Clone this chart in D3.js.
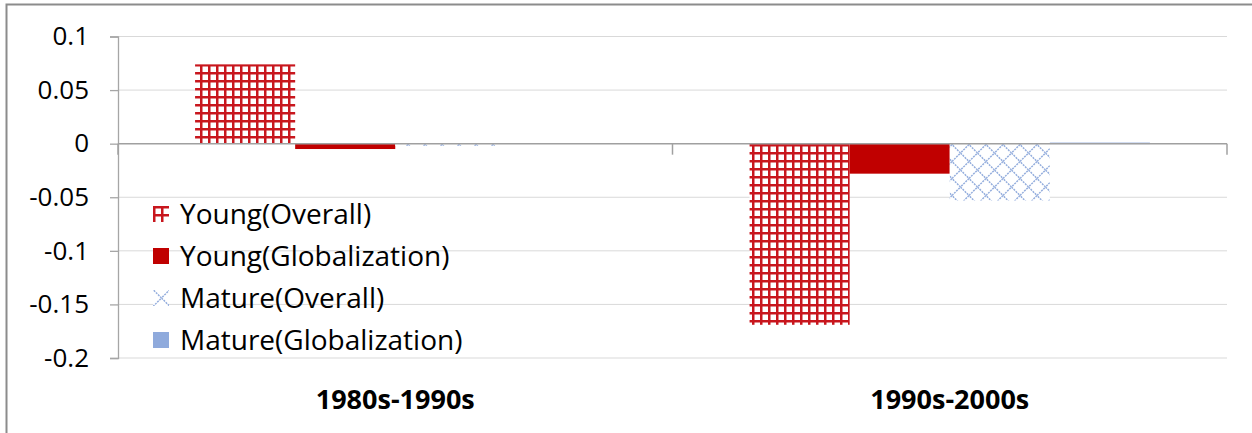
<!DOCTYPE html>
<html>
<head>
<meta charset="utf-8">
<script src="https://cdn.jsdelivr.net/npm/d3@7"></script>
<style>
  body { margin: 0; background: #fff; }
  svg { display: block; }
  text { font-family: "Open Sans", sans-serif; fill: #000; }
</style>
</head>
<body>
<div id="chart"></div>
<script>
// data
const periods = ["1980s-1990s", "1990s-2000s"];
const seriesNames = ["Young(Overall)", "Young(Globalization)", "Mature(Overall)", "Mature(Globalization)"];
const youngOverall = [0.074, -0.169];
const youngGlob = [-0.005, -0.028];
const matureOverall = [-0.002, -0.053];
const matureGlob = [0.0, 0.001];
const yTicks = [0.1, 0.05, 0, -0.05, -0.1, -0.15, -0.2];

const width = 1252, height = 433;
const plot = {left: 118, right: 1227, top: 36.5, bottom: 358};

let svg = d3.select("#chart")
    .append("svg")
    .attr("width", width)
    .attr("height", height);

// patterns
let defs = svg.append("defs");
let grid = defs.append("pattern")
    .attr("id", "grid")
    .attr("patternUnits", "userSpaceOnUse")
    .attr("width", 8).attr("height", 8);
grid.append("rect").attr("width", 8).attr("height", 8).attr("fill", "#fff");
grid.append("rect").attr("x", 0).attr("y", 0).attr("width", 2.5).attr("height", 8).attr("fill", "#c8161d");
grid.append("rect").attr("x", 0).attr("y", 0).attr("width", 8).attr("height", 2.5).attr("fill", "#c8161d");

let diamond = defs.append("pattern")
    .attr("id", "diamond")
    .attr("patternUnits", "userSpaceOnUse")
    .attr("width", 17).attr("height", 17);
diamond.append("rect").attr("width", 17).attr("height", 17).attr("fill", "#fff");
diamond.append("path")
    .attr("d", "M0,8.5 L8.5,0 L17,8.5 L8.5,17 Z")
    .attr("fill", "none")
    .attr("stroke", "#8faadc")
    .attr("stroke-width", 1.4)
    .attr("stroke-dasharray", "2,1");

const fills = ["url(#grid)", "#c00000", "url(#diamond)", "#8faadc"];

// outer frame
svg.append("path")
    .attr("d", `M6.5,${height} L6.5,4.5 L${width},4.5`)
    .attr("fill", "none")
    .attr("stroke", "#8c8c8c")
    .attr("stroke-width", 2);

let y = d3.scaleLinear()
    .domain([-0.2, 0.1])
    .range([plot.bottom, plot.top]);

let x0 = d3.scaleBand()
    .domain(periods)
    .range([plot.left, plot.right])
    .padding(0);

let x1 = d3.scaleBand()
    .domain(seriesNames)
    .range([0, x0.bandwidth()])
    .paddingInner(0)
    .paddingOuter(0.77);

// gridlines
svg.append("g")
    .selectAll("line")
    .data(yTicks.filter(d => d !== 0))
    .enter()
    .append("line")
    .attr("x1", plot.left)
    .attr("x2", plot.right)
    .attr("y1", d => y(d))
    .attr("y2", d => y(d))
    .attr("stroke", "#d9d9d9")
    .attr("stroke-width", 1);

// y axis (hyphen minus like the original)
let yAxis = svg.append("g")
    .attr("transform", `translate(${plot.left},0)`)
    .call(d3.axisLeft(y).tickValues(yTicks).tickSize(8).tickPadding(21)
        .tickFormat(d => String(+d.toFixed(2))));
yAxis.select(".domain").attr("stroke", "#a6a6a6").attr("stroke-width", 1.3);
yAxis.selectAll(".tick line").attr("stroke", "#a6a6a6").attr("stroke-width", 1.3);
yAxis.selectAll(".tick text")
    .style("font-family", "Open Sans, sans-serif")
    .style("font-size", "26px")
    .attr("fill", "#000");

// bars
let rows = [youngOverall, youngGlob, matureOverall, matureGlob];
let barData = [];
periods.forEach((p, i) => {
    seriesNames.forEach((s, j) => {
        barData.push({period: p, series: s, value: rows[j][i], k: j});
    });
});

svg.append("g")
    .selectAll("rect")
    .data(barData)
    .enter()
    .append("rect")
    .attr("x", d => x0(d.period) + x1(d.series))
    .attr("width", x1.bandwidth())
    .attr("y", d => y(Math.max(0, d.value)))
    .attr("height", d => Math.max(Math.abs(y(d.value) - y(0)), d.value !== 0 ? 1.5 : 0))
    .attr("fill", d => fills[d.k]);

// category axis on zero
let xAxis = svg.append("g")
    .attr("transform", `translate(0,${y(0)})`);
xAxis.append("line")
    .attr("x1", plot.left).attr("x2", plot.right)
    .attr("stroke", "#a0a0a0").attr("stroke-width", 1.5);
xAxis.selectAll("line.tk")
    .data([plot.left, x0(periods[1]), plot.right])
    .enter()
    .append("line")
    .attr("class", "tk")
    .attr("x1", d => d).attr("x2", d => d)
    .attr("y1", 0).attr("y2", 11)
    .attr("stroke", "#a0a0a0").attr("stroke-width", 1.5);

// category labels
svg.append("g")
    .selectAll("text")
    .data(periods)
    .enter()
    .append("text")
    .attr("x", d => x0(d) + x0.bandwidth() / 2)
    .attr("y", 409)
    .style("text-anchor", "middle")
    .style("font-size", "27px")
    .style("font-weight", "bold")
    .text(d => d);

// legend
let legend = svg.append("g");
let items = legend.selectAll("g")
    .data(seriesNames)
    .enter()
    .append("g")
    .attr("transform", (d, i) => `translate(153, ${214 + i * 42})`);
items.append("rect")
    .attr("x", 0).attr("y", -8)
    .attr("width", 16).attr("height", 16)
    .attr("fill", (d, i) => fills[i]);
items.append("text")
    .attr("x", 27)
    .attr("y", 0)
    .attr("dy", "0.35em")
    .style("font-size", "28px")
    .text(d => d);
</script>
</body>
</html>
